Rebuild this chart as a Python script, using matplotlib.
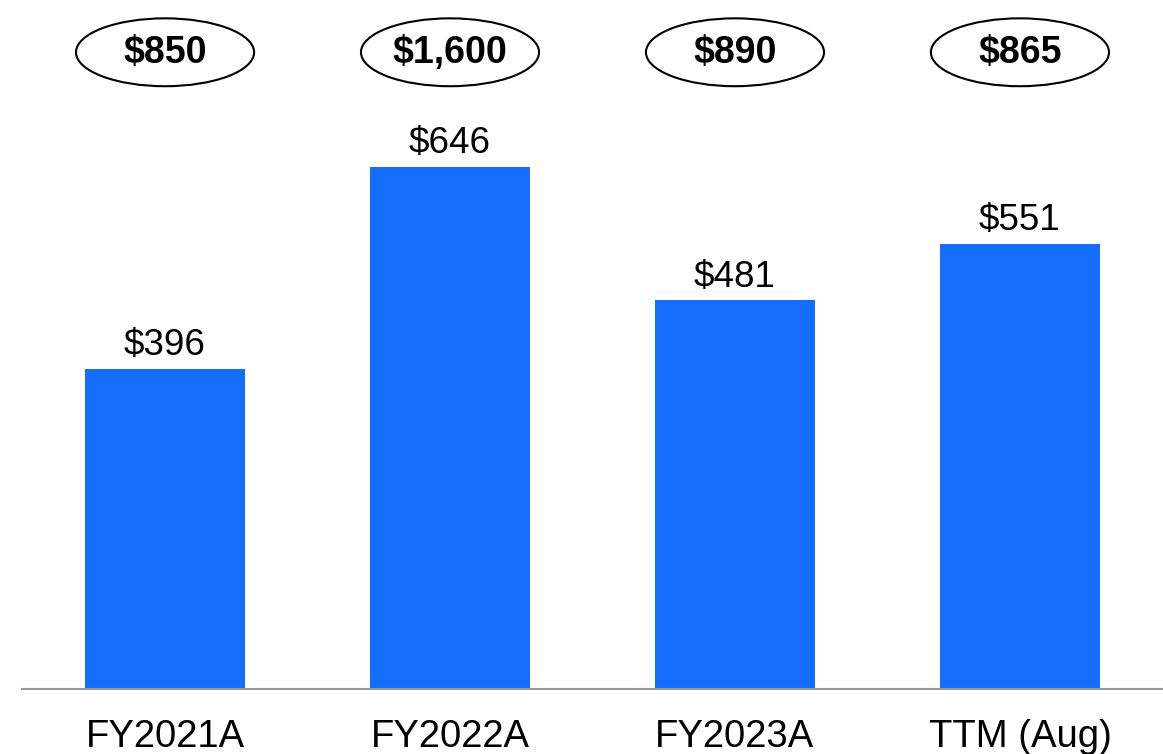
import matplotlib.pyplot as plt
from matplotlib import font_manager
from matplotlib.patches import Ellipse

plt.rcParams['font.family'] = ['Liberation Sans', 'DejaVu Sans']

categories = ['FY2021A', 'FY2022A', 'FY2023A', 'TTM (Aug)']
values = [396, 646, 481, 551]
bubble_labels = ['$850', '$1,600', '$890', '$865']

# pick the regular-width bold face explicitly (avoid the Narrow variant)
bold_path = [f.fname for f in font_manager.fontManager.ttflist
             if f.name == 'Liberation Sans' and f.weight in (700, 'bold')]
if bold_path:
    bold_font = font_manager.FontProperties(fname=bold_path[0], size=27)
else:
    bold_font = font_manager.FontProperties(family='Liberation Sans', weight='bold', size=27)

fig = plt.figure(figsize=(11.63, 7.54), dpi=100)
ax = fig.add_axes([22 / 1163, 65 / 754, 1 - 22 / 1163, 689 / 754])

x = range(len(categories))
bars = ax.bar(x, values, width=0.561, color='#156EFB')

for rect, v in zip(bars, values):
    ax.annotate(f'${v}', (rect.get_x() + rect.get_width() / 2, v),
                xytext=(0, 4), textcoords='offset points',
                ha='center', va='bottom', fontsize=26.5)

# ovals with the headline figures above each bar
for i, lab in zip(x, bubble_labels):
    ax.add_patch(Ellipse((i, 788), width=0.625, height=84, fill=False,
                         edgecolor='black', linewidth=1.5, clip_on=False))
    ax.text(i, 787, lab, ha='center', va='center', fontproperties=bold_font)

ax.set_xlim(-0.502, 3.502)
ax.set_ylim(0, 852.7)
ax.set_xticks(list(x))
ax.set_xticklabels(categories, fontsize=27.5)
ax.tick_params(axis='x', length=0, pad=21.5)
ax.set_yticks([])
for side in ['top', 'right', 'left']:
    ax.spines[side].set_visible(False)
ax.spines['bottom'].set_color('#9a9a9a')
ax.spines['bottom'].set_linewidth(1.5)

fig.savefig('out.png', dpi=100)
